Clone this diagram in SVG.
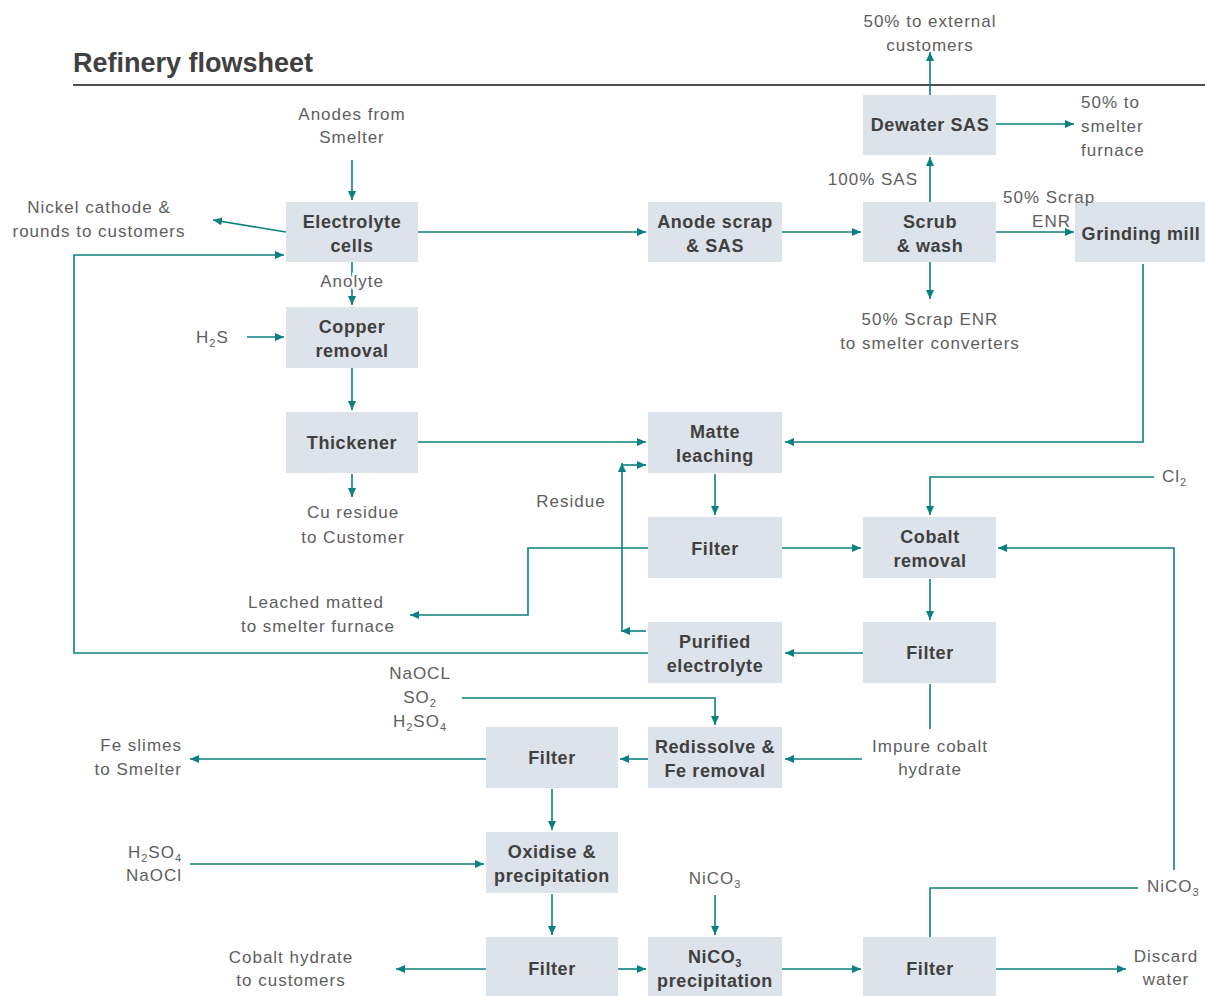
<svg xmlns="http://www.w3.org/2000/svg" width="1205" height="996" viewBox="0 0 1205 996">
<style>
.bg{fill:#ffffff}
.box{fill:#dde3ea}
.bt{font-family:"Liberation Sans",Arial,sans-serif;font-weight:bold;font-size:18px;fill:#404040;text-anchor:middle;letter-spacing:0.6px}
.lt{font-family:"Liberation Sans",Arial,sans-serif;font-size:17px;fill:#5e5e5e;letter-spacing:1px}
.m{text-anchor:middle}
.e{text-anchor:end}
.c{fill:none;stroke:#0b8080;stroke-width:1.6}
.a{marker-end:url(#ah)}
.title{font-family:"Liberation Sans",Arial,sans-serif;font-weight:bold;font-size:27px;fill:#404040}
.sub{font-size:11px}
</style>
<defs>
<marker id="ah" markerWidth="9" markerHeight="8" refX="9" refY="4" orient="auto" markerUnits="userSpaceOnUse">
<path d="M0,0 L9,4 L0,8 z" fill="#0b8080"/>
</marker>
</defs>
<rect class="bg" x="0" y="0" width="1205" height="996"/>
<text class="title" x="73" y="72">Refinery flowsheet</text>
<line x1="73" y1="85" x2="1205" y2="85" stroke="#505050" stroke-width="2"/>

<g id="connectors">
<line class="c a" x1="352" y1="160" x2="352" y2="200"/>
<line class="c a" x1="286" y1="232" x2="213" y2="220"/>
<path class="c a" d="M648,653 H74 V255 H284"/>
<line class="c a" x1="418" y1="232" x2="646" y2="232"/>
<line class="c a" x1="352" y1="262" x2="352" y2="305"/>
<line class="c a" x1="247" y1="337" x2="284" y2="337"/>
<line class="c a" x1="352" y1="368" x2="352" y2="410"/>
<line class="c a" x1="352" y1="474" x2="352" y2="497"/>
<line class="c a" x1="418" y1="442" x2="646" y2="442"/>
<line class="c a" x1="782" y1="232" x2="861" y2="232"/>
<line class="c a" x1="996" y1="232" x2="1074" y2="232"/>
<line class="c a" x1="930" y1="202" x2="930" y2="157"/>
<line class="c a" x1="930" y1="95" x2="930" y2="52"/>
<line class="c a" x1="996" y1="124" x2="1074" y2="124"/>
<line class="c a" x1="930" y1="262" x2="930" y2="299"/>
<path class="c a" d="M1143,264 V442 H785"/>
<line class="c a" x1="715" y1="474" x2="715" y2="515"/>
<line class="c a" x1="782" y1="548" x2="861" y2="548"/>
<path class="c a" d="M648,548 H528 V615 H410"/>
<line class="c a" x1="646" y1="631" x2="621" y2="631"/>
<line class="c a" x1="622" y1="631" x2="622" y2="463"/>
<line class="c a" x1="622" y1="465" x2="646" y2="465"/>
<path class="c a" d="M1154,477 H930 V515"/>
<line class="c a" x1="930" y1="579" x2="930" y2="620"/>
<line class="c a" x1="863" y1="653" x2="785" y2="653"/>
<line class="c" x1="930" y1="684" x2="930" y2="729"/>
<line class="c a" x1="862" y1="759" x2="785" y2="759"/>
<path class="c a" d="M462,698 H715 V725"/>
<line class="c a" x1="648" y1="759" x2="620" y2="759"/>
<line class="c a" x1="486" y1="759" x2="190" y2="759"/>
<line class="c a" x1="552" y1="789" x2="552" y2="830"/>
<line class="c a" x1="190" y1="864" x2="484" y2="864"/>
<line class="c a" x1="552" y1="894" x2="552" y2="935"/>
<line class="c a" x1="486" y1="969" x2="396" y2="969"/>
<line class="c a" x1="618" y1="969" x2="646" y2="969"/>
<line class="c a" x1="715" y1="895" x2="715" y2="935"/>
<line class="c a" x1="782" y1="969" x2="861" y2="969"/>
<path class="c" d="M930,937 V888 H1138"/>
<path class="c a" d="M1174,870 V548 H998"/>
<line class="c a" x1="996" y1="969" x2="1126" y2="969"/>
</g>

<g id="n-electrolyte"><rect class="box" x="286" y="202" width="132" height="60"/><text class="bt" x="352" y="228">Electrolyte</text><text class="bt" x="352" y="252">cells</text></g>
<g id="n-copper"><rect class="box" x="286" y="307" width="132" height="61"/><text class="bt" x="352" y="333">Copper</text><text class="bt" x="352" y="357">removal</text></g>
<g id="n-thickener"><rect class="box" x="286" y="412" width="132" height="61"/><text class="bt" x="352" y="449">Thickener</text></g>
<g id="n-anode"><rect class="box" x="648" y="202" width="134" height="60"/><text class="bt" x="715" y="228">Anode scrap</text><text class="bt" x="715" y="252">&amp; SAS</text></g>
<g id="n-matte"><rect class="box" x="648" y="412" width="134" height="61"/><text class="bt" x="715" y="438">Matte</text><text class="bt" x="715" y="462">leaching</text></g>
<g id="n-filter1"><rect class="box" x="648" y="517" width="134" height="61"/><text class="bt" x="715" y="555">Filter</text></g>
<g id="n-purified"><rect class="box" x="648" y="622" width="134" height="61"/><text class="bt" x="715" y="648">Purified</text><text class="bt" x="715" y="672">electrolyte</text></g>
<g id="n-redissolve"><rect class="box" x="648" y="727" width="134" height="61"/><text class="bt" x="715" y="753">Redissolve &amp;</text><text class="bt" x="715" y="777">Fe removal</text></g>
<g id="n-nico3"><rect class="box" x="648" y="937" width="134" height="61"/><text class="bt" x="715" y="963">NiCO<tspan class="sub" dy="4">3</tspan></text><text class="bt" x="715" y="987">precipitation</text></g>
<g id="n-dewater"><rect class="box" x="863" y="95" width="133" height="60"/><text class="bt" x="930" y="131">Dewater SAS</text></g>
<g id="n-scrub"><rect class="box" x="863" y="202" width="133" height="60"/><text class="bt" x="930" y="228">Scrub</text><text class="bt" x="930" y="252">&amp; wash</text></g>
<g id="n-cobalt"><rect class="box" x="863" y="517" width="133" height="61"/><text class="bt" x="930" y="543">Cobalt</text><text class="bt" x="930" y="567">removal</text></g>
<g id="n-filter2"><rect class="box" x="863" y="622" width="133" height="61"/><text class="bt" x="930" y="659">Filter</text></g>
<g id="n-filter3"><rect class="box" x="863" y="937" width="133" height="61"/><text class="bt" x="930" y="975">Filter</text></g>
<g id="n-grinding"><rect class="box" x="1075" y="202" width="132" height="60"/><text class="bt" x="1141" y="240">Grinding mill</text></g>
<g id="n-filter4"><rect class="box" x="486" y="727" width="132" height="61"/><text class="bt" x="552" y="764">Filter</text></g>
<g id="n-oxidise"><rect class="box" x="486" y="832" width="132" height="61"/><text class="bt" x="552" y="858">Oxidise &amp;</text><text class="bt" x="552" y="882">precipitation</text></g>
<g id="n-filter5"><rect class="box" x="486" y="937" width="132" height="61"/><text class="bt" x="552" y="975">Filter</text></g>

<g id="labels">
<text class="lt m" x="352" y="120">Anodes from</text>
<text class="lt m" x="352" y="143">Smelter</text>
<text class="lt m" x="99" y="213">Nickel cathode &amp;</text>
<text class="lt m" x="99" y="237">rounds to customers</text>
<text class="lt m" x="352" y="287" stroke="#ffffff" stroke-width="5" paint-order="stroke">Anolyte</text>
<text class="lt" x="196" y="343">H<tspan class="sub" dy="4">2</tspan><tspan dy="-4">S</tspan></text>
<text class="lt m" x="353" y="518">Cu residue</text>
<text class="lt m" x="353" y="543">to Customer</text>
<text class="lt m" x="930" y="27">50% to external</text>
<text class="lt m" x="930" y="51">customers</text>
<text class="lt" x="1081" y="108">50% to</text>
<text class="lt" x="1081" y="132">smelter</text>
<text class="lt" x="1081" y="156">furnace</text>
<text class="lt e" x="918" y="185">100% SAS</text>
<text class="lt" x="1003" y="203">50% Scrap</text>
<text class="lt e" x="1071" y="227">ENR</text>
<text class="lt m" x="930" y="325">50% Scrap ENR</text>
<text class="lt m" x="930" y="349">to smelter converters</text>
<text class="lt m" x="571" y="507">Residue</text>
<text class="lt m" x="316" y="608">Leached matted</text>
<text class="lt m" x="318" y="632">to smelter furnace</text>
<text class="lt" x="1162" y="482">Cl<tspan class="sub" dy="4">2</tspan></text>
<text class="lt m" x="420" y="679">NaOCL</text>
<text class="lt m" x="420" y="703">SO<tspan class="sub" dy="4">2</tspan></text>
<text class="lt m" x="420" y="727">H<tspan class="sub" dy="4">2</tspan><tspan dy="-4">SO</tspan><tspan class="sub" dy="4">4</tspan></text>
<text class="lt m" x="930" y="752">Impure cobalt</text>
<text class="lt m" x="930" y="775">hydrate</text>
<text class="lt e" x="182" y="751">Fe slimes</text>
<text class="lt e" x="182" y="775">to Smelter</text>
<text class="lt e" x="182" y="858">H<tspan class="sub" dy="4">2</tspan><tspan dy="-4">SO</tspan><tspan class="sub" dy="4">4</tspan></text>
<text class="lt e" x="182" y="881">NaOCl</text>
<text class="lt m" x="715" y="884">NiCO<tspan class="sub" dy="4">3</tspan></text>
<text class="lt" x="1147" y="892">NiCO<tspan class="sub" dy="4">3</tspan></text>
<text class="lt m" x="291" y="963">Cobalt hydrate</text>
<text class="lt m" x="291" y="986">to customers</text>
<text class="lt m" x="1166" y="962">Discard</text>
<text class="lt m" x="1166" y="985">water</text>
</g>
</svg>
